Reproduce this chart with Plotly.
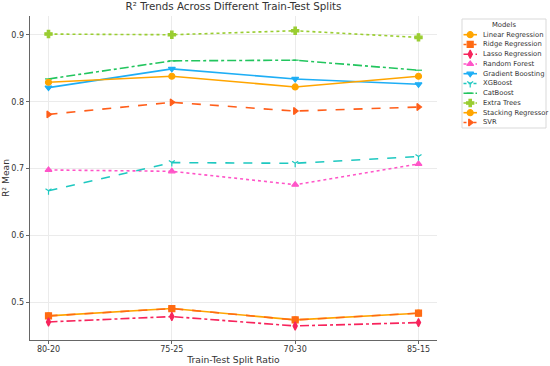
import plotly.graph_objects as go

splits = ["80-20", "75-25", "70-30", "85-15"]

linear_regression = [0.480, 0.491, 0.474, 0.484]
ridge_regression = [0.480, 0.491, 0.474, 0.484]
lasso_regression = [0.471, 0.479, 0.465, 0.470]
random_forest = [0.698, 0.696, 0.676, 0.707]
gradient_boosting = [0.821, 0.849, 0.834, 0.826]
xgboost = [0.667, 0.709, 0.708, 0.718]
catboost = [0.834, 0.861, 0.862, 0.847]
extra_trees = [0.901, 0.900, 0.906, 0.896]
stacking_regressor = [0.829, 0.838, 0.822, 0.838]
svr = [0.781, 0.799, 0.786, 0.792]

series = [
    ("Linear Regression", linear_regression, "#FFA500", "solid", "circle", 6),
    ("Ridge Regression", ridge_regression, "#FF6A13", "dash", "square", 6),
    ("Lasso Regression", lasso_regression, "#F7245C", "dashdot", "diamond-tall", 6),
    ("Random Forest", random_forest, "#FF55C8", "dot", "triangle-up", 6),
    ("Gradient Boosting", gradient_boosting, "#1EAEF5", "solid", "triangle-down", 6),
    ("XGBoost", xgboost, "#1EC8C0", "dash", "y-down-open", 5),
    ("CatBoost", catboost, "#22C55E", "dashdot", "line-ew-open", 5),
    ("Extra Trees", extra_trees, "#9ACD32", "dot", "cross", 6),
    ("Stacking Regressor", stacking_regressor, "#FFA500", "solid", "circle", 6),
    ("SVR", svr, "#FF5E1A", "dash", "triangle-right", 6),
]

W, H = 550, 366
# plot area in pixels
PX0, PX1, PY0, PY1 = 30, 437, 16, 340
# legend box geometry in pixels
LX0, LX1, LY0, LY1 = 462, 546, 19, 128
ROW0, ROWSTEP = 34.7, 9.75

fig = go.Figure()
for name, vals, color, dash, sym, ms in series:
    fig.add_trace(go.Scatter(
        x=splits, y=vals, name=name, mode="lines+markers", showlegend=False,
        line=dict(color=color, width=1.6, dash=dash),
        marker=dict(symbol=sym, size=ms, color=color, line=dict(color=color, width=1.2)),
    ))

# compact legend on an overlay axis in pixel units
annotations = [dict(text="Models", x=(LX0 + LX1) / 2, y=LY0 + 6, xref="x2", yref="y2",
                    showarrow=False, font=dict(size=6.8, color="#333333"), xanchor="center", yanchor="middle")]
for i, (name, vals, color, dash, sym, ms) in enumerate(series):
    ry = ROW0 + i * ROWSTEP
    fig.add_trace(go.Scatter(
        x=[LX0 + 1.5, LX0 + 15], y=[ry, ry], mode="lines", xaxis="x2", yaxis="y2",
        showlegend=False, hoverinfo="skip",
        line=dict(color=color, width=1.6, dash=dash if dash != "dash" else "3px,2px"),
    ))
    fig.add_trace(go.Scatter(
        x=[LX0 + 8.2], y=[ry], mode="markers", xaxis="x2", yaxis="y2",
        showlegend=False, hoverinfo="skip",
        marker=dict(symbol=sym, size=ms, color=color, line=dict(color=color, width=1.2)),
    ))
    annotations.append(dict(text=name, x=LX0 + 18.5, y=ry, xref="x2", yref="y2", showarrow=False,
                            xanchor="left", yanchor="middle", font=dict(size=6.8, color="#333333")))

fig.update_layout(
    width=W, height=H,
    margin=dict(l=0, r=0, t=0, b=0, autoexpand=False),
    paper_bgcolor="white", plot_bgcolor="rgba(0,0,0,0)",
    font=dict(family="DejaVu Sans", size=8, color="#333333"),
    title=dict(text="R² Trends Across Different Train-Test Splits", x=(PX0 + PX1) / 2 / W, xanchor="center",
               y=1 - 3 / H, yanchor="top", font=dict(size=10.3, color="#333333")),
    showlegend=False,
    annotations=annotations,
    shapes=[dict(type="rect", xref="x2", yref="y2", x0=LX0, x1=LX1, y0=LY0, y1=LY1,
                 line=dict(color="#D9D9D9", width=1), fillcolor="rgba(0,0,0,0)", layer="below")],
    xaxis=dict(
        domain=[PX0 / W, PX1 / W], anchor="y", automargin=False,
        type="category", range=[-0.15, 3.15],
        showgrid=True, gridcolor="#EBEBEB", gridwidth=1,
        showline=True, linecolor="#666666", linewidth=1.3,
        ticks="outside", ticklen=3, tickcolor="#666666",
        tickfont=dict(size=8), zeroline=False, ticklabelstandoff=-2,
        title=dict(text="Train-Test Split Ratio", font=dict(size=9.2), standoff=3),
    ),
    yaxis=dict(
        domain=[1 - PY1 / H, 1 - PY0 / H], anchor="x", automargin=False,
        range=[0.444, 0.928], tickvals=[0.5, 0.6, 0.7, 0.8, 0.9],
        showgrid=True, gridcolor="#EBEBEB", gridwidth=1,
        showline=True, linecolor="#666666", linewidth=1.3,
        ticks="outside", ticklen=3, tickcolor="#666666",
        tickfont=dict(size=8), zeroline=False,
        title=dict(text="R² Mean", font=dict(size=9.2), standoff=4),
    ),
    xaxis2=dict(domain=[0, 1], range=[0, W], anchor="y2", visible=False, fixedrange=True, automargin=False),
    yaxis2=dict(domain=[0, 1], range=[H, 0], anchor="x2", visible=False, fixedrange=True, automargin=False),
)

fig.write_html("out.html", config={"displayModeBar": False, "staticPlot": True},
               post_script="document.body.style.margin='0';document.body.style.overflow='hidden';")
